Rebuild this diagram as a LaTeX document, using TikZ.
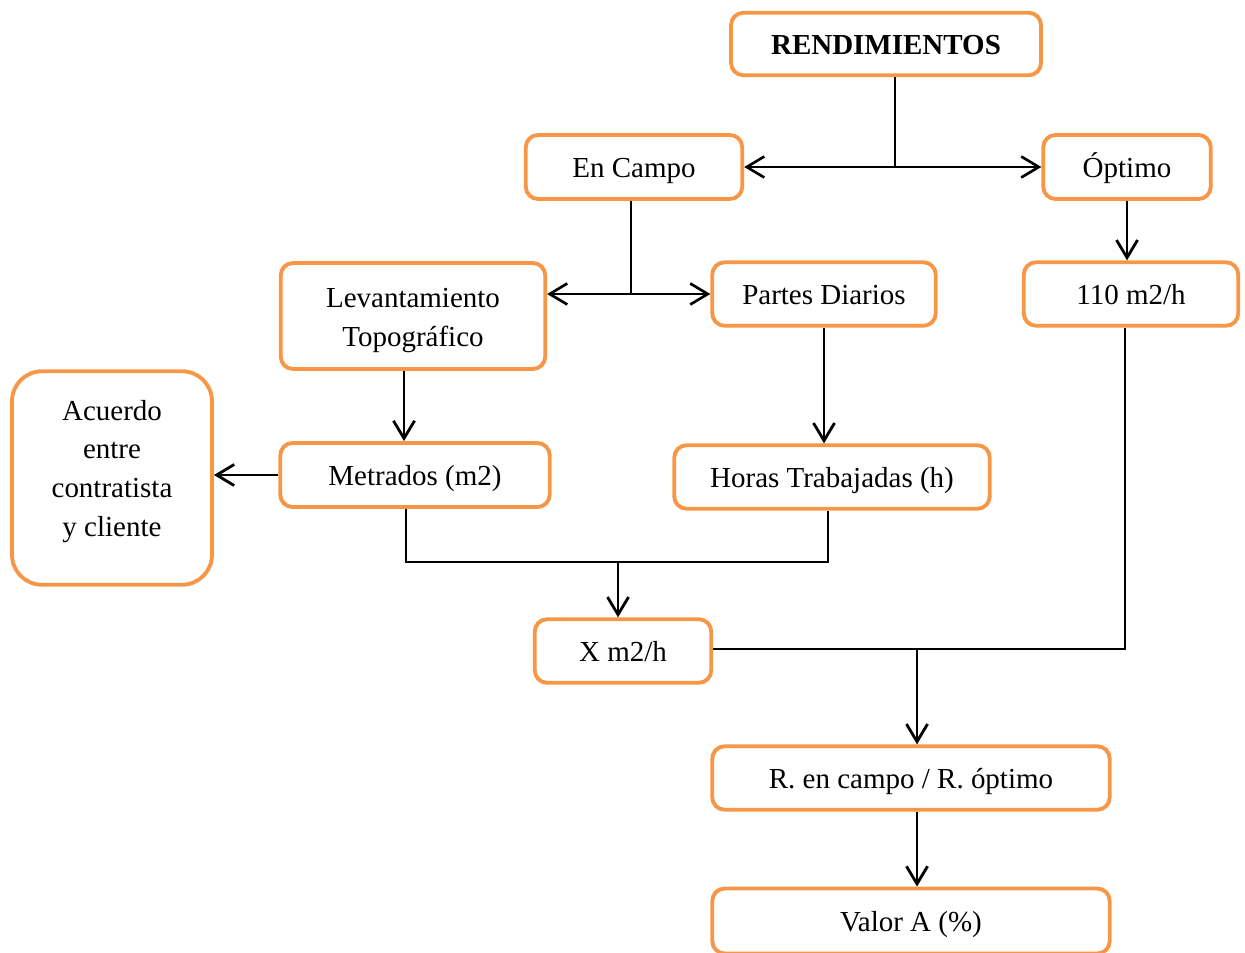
\documentclass[tikz,border=0pt]{standalone}
\usepackage{fontspec}
\setmainfont{Liberation Serif}
\usetikzlibrary{arrows.meta}
\definecolor{boxorange}{HTML}{F79646}
\begin{document}
\begin{tikzpicture}[x=0.02cm,y=-0.02cm,
	box/.style={draw=boxorange,line width=2.2pt,rounded corners=7pt,align=center,inner sep=2pt,
		font=\fontsize{16.5}{22}\selectfont},
	one/.style={text height=15.3pt,text depth=3.5pt},
	line/.style={line width=1.1pt},
	arr/.style={line width=1.6pt,-{Straight Barb[length=10pt,width=12pt]}},
	dbl/.style={line width=1.5pt,{Straight Barb[length=10pt,width=12pt]}-{Straight Barb[length=10pt,width=12pt]}}]
	\useasboundingbox (0,0) rectangle (1245,953);
	\node[box,one,minimum width=6.2cm,minimum height=1.25cm,font=\fontsize{16.5}{22}\selectfont\bfseries] (ren) at (886,44) {RENDIMIENTOS};
	\node[box,one,minimum width=4.33cm,minimum height=1.28cm]	(camp)	at (634,167)	{En Campo};
	\node[box,one,minimum width=3.35cm,minimum height=1.28cm]	(opt)	at (1127,167)	{Óptimo};
	\node[box,minimum width=5.29cm,minimum height=2.12cm]	(lev)	at (413,316)
		{\raisebox{0pt}[28pt][16pt]{\begin{tabular}{@{}c@{}}Levantamiento\\Topográfico\end{tabular}}};
	\node[box,one,minimum width=4.47cm,minimum height=1.27cm]	(par)	at (824,294)	{Partes Diarios};
	\node[box,one,minimum width=4.29cm,minimum height=1.27cm]	(m110)	at (1131,294)	{110 m2/h};
	\node[box,minimum width=4.0cm,minimum height=4.27cm,rounded corners=17pt] (acu) at (112,478)
		{\raisebox{0pt}[44pt][44pt]{\begin{tabular}{@{}c@{}}Acuerdo\\entre\\contratista\\y cliente\end{tabular}}};
	\node[box,one,minimum width=5.39cm,minimum height=1.28cm]	(met)	at (415,475)	{Metrados (m2)};
	\node[box,one,minimum width=6.31cm,minimum height=1.27cm]	(hor)	at (832,477)	{Horas Trabajadas (h)};
	\node[box,one,minimum width=3.53cm,minimum height=1.27cm]	(xm)	at (623,651)	{X m2/h};
	\node[box,one,minimum width=7.95cm,minimum height=1.27cm]	(rat)	at (911,778)	{R. en campo / R. óptimo};
	\node[box,one,minimum width=7.95cm,minimum height=1.30cm]	(val)	at (911,921)	{Valor A (\%)};
	% junctions
	\coordinate (j1) at (895,167);
	\coordinate (j2) at (631,294);
	\coordinate (j3) at (618,562);
	\coordinate (j4) at (917,649);
	\draw[line] (ren.south -| j1) -- (j1);
	\draw[dbl] (camp) -- (opt);
	\draw[line] (camp.south -| j2) -- (j2);
	\draw[dbl] (lev.east |- par) -- (par);
	\draw[arr] (opt.south) -- (opt.south |- m110.north);
	\draw[arr] ([xshift=-0.18cm]lev.south) -- ([xshift=-0.18cm]lev.south |- met.north);
	\draw[arr] (par.south) -- (par.south |- hor.north);
	\draw[arr] (met) -- (acu.east |- met);
	\draw[line] ([xshift=-0.18cm]met.south) |- (j3) -| ([xshift=-0.08cm]hor.south);
	\draw[arr] (j3) -- (j3 |- xm.north);
	\draw[line] (xm.east |- j4) -| ([xshift=-0.12cm]m110.south);
	\draw[arr] (j4) -- (j4 |- rat.north);
	\draw[arr] (rat.south -| j4) -- (val.north -| j4);
\end{tikzpicture}
\end{document}
